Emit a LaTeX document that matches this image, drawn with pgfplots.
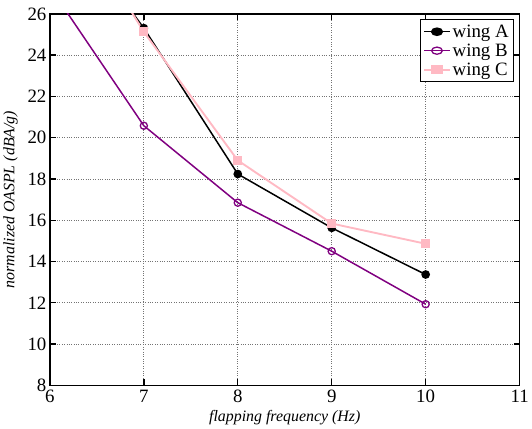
\documentclass[border=0pt]{standalone}
\usepackage{fontspec}
\setmainfont{Liberation Serif}
\usepackage{pgfplots}
\pgfplotsset{compat=1.18}
\definecolor{wingB}{RGB}{128,0,128}
\definecolor{wingC}{RGB}{255,185,195}
\begin{document}
\begin{tikzpicture}
\begin{axis}[
  scale only axis,
  width=473pt, height=374pt,
  xmin=6, xmax=11, ymin=8, ymax=26,
  xtick={6,7,8,9,10,11}, ytick={8,10,...,26},
  grid=major,
  major grid style={black!55, dotted, line width=0.7pt},
  axis line style={line width=1.6pt},
  tick style={black, line width=1.4pt},
  tick align=inside, major tick length=6pt,
  tick label style={font=\fontsize{19}{21}\selectfont},
  xticklabel style={yshift=-1pt},
  /pgf/number format/assume math mode=true,
  xlabel={\itshape flapping frequency (Hz)},
  ylabel={\itshape normalized OASPL (dBA/g)},
  label style={font=\fontsize{16}{18}\selectfont},
  xlabel style={yshift=-1pt},
  ylabel style={yshift=3pt},
  legend style={at={(0.988,0.985)}, anchor=north east, draw=black, line width=0.6pt,
    font=\fontsize{19}{21}\selectfont, inner sep=3pt, row sep=1pt},
  legend image post style={xscale=1.5},
  legend cell align=left,
  clip=true,
]
\addplot[black, line width=1.5pt, mark=*, mark size=3.6pt] coordinates {
  (6,31.5) (7,25.31) (8,18.24) (9,15.63) (10,13.37)};
\addlegendentry{wing A}
\addplot[wingB, line width=1.5pt, mark=o, mark size=3.6pt, mark options={line width=1.3pt}] coordinates {
  (6,27.3) (7,20.58) (8,16.85) (9,14.5) (10,11.93)};
\addlegendentry{wing B}
\addplot[wingC, line width=1.9pt, mark=square*, mark size=3.6pt] coordinates {
  (6,32.5) (7,25.13) (8,18.9) (9,15.84) (10,14.86)};
\addlegendentry{wing C}
\end{axis}
\path ([yshift=14pt]current axis.north) -- ([xshift=4pt]current axis.east);
\end{tikzpicture}
\end{document}
